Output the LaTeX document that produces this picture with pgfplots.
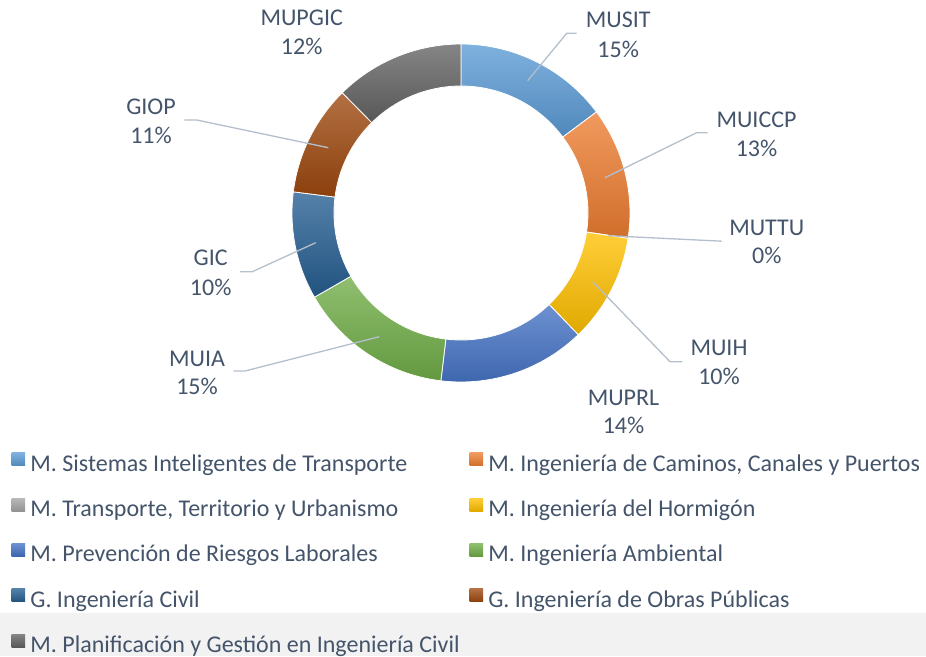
\documentclass[border=0pt]{standalone}
\usepackage{fontspec}
\setmainfont{Carlito}
\usepackage{pgfplots}
\pgfplotsset{compat=1.18}
\usepgfplotslibrary{polar}
\definecolor{cMUSIT}{HTML}{5B9BD5}
\definecolor{cMUICCP}{HTML}{ED7D31}
\definecolor{cMUTTU}{HTML}{A5A5A5}
\definecolor{cMUIH}{HTML}{FFC000}
\definecolor{cMUPRL}{HTML}{4472C4}
\definecolor{cMUIA}{HTML}{70AD47}
\definecolor{cGIC}{HTML}{255E91}
\definecolor{cGIOP}{HTML}{9E480E}
\definecolor{cMUPGIC}{HTML}{636363}
\definecolor{txt}{HTML}{44546A}
\definecolor{lead}{HTML}{B4BFCD}
\definecolor{band}{HTML}{F2F2F2}
\pgfplotsset{seg/.style={draw=white, line width=0.8pt, top color=#1!78!white, bottom color=#1!88!black}}
\newcommand\cumsum{0}
\newcommand\segment[3]{%
  \pgfmathsetmacro\angA{90-3.6*\cumsum}%
  \pgfmathsetmacro\tmpcum{\cumsum+#1}%
  \xdef\cumsum{\tmpcum}%
  \pgfmathsetmacro\angB{90-3.6*\cumsum}%
  \edef\temp{\noexpand\addplot[seg=#2] coordinates {(\angA,127) (\angA,169)} arc[start angle=\angA, end angle=\angB, radius=169pt] -- (axis cs:\angB,127) arc[start angle=\angB, end angle=\angA, radius=127pt] -- cycle;}%
  \temp
  \addlegendentry{#3}%
}
\tikzset{lab/.style={text=txt, font=\fontsize{24}{29}\selectfont, inner sep=0pt, anchor=base},
  ld/.style={draw=lead, line width=1.3pt}}
\newcommand\lbl[5]{\node[lab] at (#1pt,656pt-#2pt) {#4};\node[lab] at (#1pt,656pt-#3pt) {#5};}
\begin{document}
\begin{tikzpicture}
\path[use as bounding box] (0,0) rectangle (926pt,656pt);
\fill[band] (0,0) rectangle (926pt,43.3pt);
\begin{polaraxis}[
  at={(461pt,443pt)}, anchor=center,
  width=338pt, height=338pt, scale only axis,
  ymin=0, ymax=169, xmin=0, xmax=360,
  hide axis, clip=false,
  legend columns=2,
  legend cell align=left,
  legend image code/.code={\path[#1,draw=none] (0pt,0pt) rectangle (13.5pt,13pt);},
  legend style={at={(-0.8388,-0.2032)}, anchor=north west, draw=none, fill=none,
     font=\fontsize{24}{29}\selectfont, text=txt,
     nodes={inner sep=0pt, text height=17pt, text depth=6pt},
     row sep=20.8pt,
     /tikz/every odd column/.append style={column sep=5.2pt},
     /tikz/every even column/.append style={column sep=10pt}},
]
\segment{14.8}{cMUSIT}{M. Sistemas Inteligentes de Transporte}
\segment{12.6}{cMUICCP}{M. Ingeniería de Caminos, Canales y Puertos}
\segment{0}{cMUTTU}{M. Transporte, Territorio y Urbanismo}
\segment{10.4}{cMUIH}{M. Ingeniería del Hormigón}
\segment{14.1}{cMUPRL}{M. Prevención de Riesgos Laborales}
\segment{14.8}{cMUIA}{M. Ingeniería Ambiental}
\segment{10.3}{cGIC}{G. Ingeniería Civil}
\segment{10.6}{cGIOP}{G. Ingeniería de Obras Públicas}
\segment{12.4}{cMUPGIC}{M. Planificación y Gestión en Ingeniería Civil}
\end{polaraxis}
% leader lines
\draw[ld] (527.7pt,656pt-80.7pt) -- (566.7pt,656pt-33.3pt) -- (576.7pt,656pt-33.3pt);
\draw[ld] (605pt,656pt-177.7pt) -- (696.7pt,656pt-132.7pt) -- (707.7pt,656pt-132.7pt);
\draw[ld] (608.3pt,656pt-235.7pt) -- (721.7pt,656pt-241.2pt);
\draw[ld] (592.7pt,656pt-281.7pt) -- (670pt,656pt-361.7pt) -- (682.3pt,656pt-361.7pt);
\draw[ld] (379.3pt,656pt-336.7pt) -- (245pt,656pt-371pt) -- (233.3pt,656pt-371pt);
\draw[ld] (315.7pt,656pt-242.7pt) -- (252.3pt,656pt-271.7pt) -- (240pt,656pt-271.7pt);
\draw[ld] (328.3pt,656pt-147.7pt) -- (196.7pt,656pt-120pt) -- (184.3pt,656pt-120pt);
% labels
\lbl{618.2}{27.3}{57.3}{MUSIT}{15\%}
\lbl{756.5}{127.7}{156.7}{MUICCP}{13\%}
\lbl{766.8}{235.7}{264}{MUTTU}{0\%}
\lbl{719}{355.7}{384.3}{MUIH}{10\%}
\lbl{623.5}{405.7}{433.3}{MUPRL}{14\%}
\lbl{197}{366.7}{395}{MUIA}{15\%}
\lbl{210.7}{266}{295.7}{GIC}{10\%}
\lbl{151}{115}{144}{GIOP}{11\%}
\lbl{301.7}{26}{55}{MUPGIC}{12\%}
\end{tikzpicture}
\end{document}
